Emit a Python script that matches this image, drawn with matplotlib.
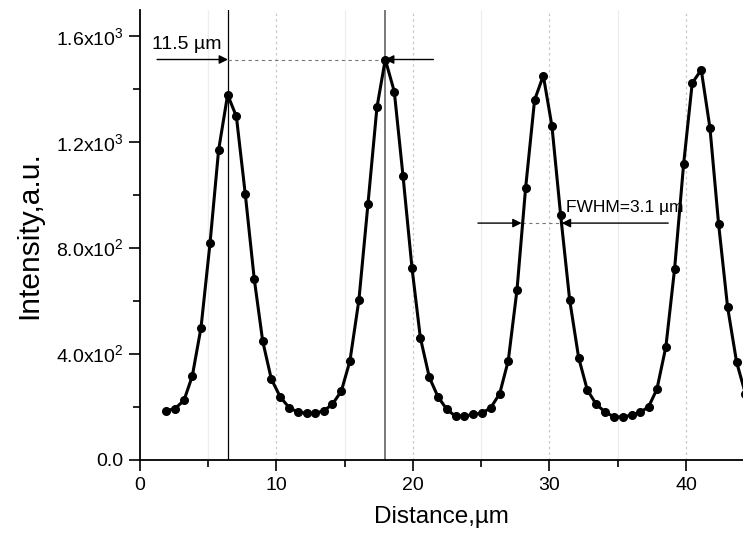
import numpy as np
import matplotlib.pyplot as plt
from matplotlib.ticker import MultipleLocator, FixedLocator

plt.rcParams['font.family'] = ['Liberation Sans', 'DejaVu Sans']
plt.rcParams['mathtext.fontset'] = 'custom'
plt.rcParams['mathtext.rm'] = 'Liberation Sans'

# intensity profile
distance = [1.90, 2.56, 3.22, 3.83, 4.47, 5.13, 5.76, 6.42, 7.06, 7.71,
            8.37, 8.99, 9.62, 10.28, 10.94, 11.58, 12.21, 12.85, 13.48, 14.10,
            14.75, 15.38, 16.04, 16.70, 17.36, 17.97, 18.63, 19.27, 19.93, 20.54,
            21.20, 21.83, 22.47, 23.12, 23.77, 24.42, 25.05, 25.69, 26.35, 26.98,
            27.62, 28.25, 28.91, 29.55, 30.18, 30.82, 31.48, 32.14, 32.77, 33.43,
            34.09, 34.73, 35.36, 36.02, 36.65, 37.26, 37.87, 38.53, 39.17, 39.83,
            40.46, 41.12, 41.76, 42.39, 43.05, 43.71, 44.36]
intensity = [186, 194, 225, 317, 500, 819, 1171, 1380, 1298, 1006,
             684, 449, 306, 238, 197, 181, 177, 177, 186, 211,
             260, 374, 605, 966, 1332, 1513, 1392, 1073, 725, 462,
             312, 239, 192, 165, 166, 172, 177, 197, 250, 375,
             642, 1026, 1360, 1452, 1262, 925, 605, 386, 265, 210,
             181, 163, 163, 169, 180, 201, 267, 428, 723, 1118,
             1424, 1474, 1254, 893, 578, 370, 250]

yticks = [0, 400, 800, 1200, 1600]
ytick_labels = ['0.0', r'4.0x10$^2$', r'8.0x10$^2$', r'1.2x10$^3$', r'1.6x10$^3$']

peak1, peak2 = 6.45, 17.95
peak_level = 1513
half_level = 895
fwhm_left, fwhm_right = 27.96, 30.9

fig = plt.figure(figsize=(7.43, 5.35), dpi=100)
ax = fig.add_axes([140 / 743, 75 / 535, 603 / 743, 450 / 535])

# grid
for x in range(5, 45, 10):
    ax.axvline(x, color='#eeeeee', lw=0.9, zorder=0)
for x in range(10, 45, 10):
    ax.axvline(x, color='#c8c8c8', lw=0.9, ls=(0, (2, 2.5)), zorder=0)

ax.plot(distance, intensity, color='black', lw=2.2, marker='o', ms=5.5, zorder=3)

# peak distance marks
ax.axvline(peak1, color='black', lw=0.9, zorder=2)
ax.axvline(peak2, color='#555555', lw=1.1, zorder=2)
ax.plot([peak1, peak2], [peak_level, peak_level], color='#777777', lw=0.8,
        ls=(0, (3, 3)), zorder=2)
arrow = dict(arrowstyle='-|>', mutation_scale=13, lw=1, color='black',
             shrinkA=0, shrinkB=0)
ax.annotate('', xy=(peak1, peak_level), xytext=(1.25, peak_level), arrowprops=arrow)
ax.annotate('', xy=(peak2, peak_level), xytext=(21.5, peak_level), arrowprops=arrow)
ax.text(0.9, 1536, '11.5 µm', fontsize=14, ha='left', va='bottom')

# FWHM marks
ax.plot([fwhm_left, fwhm_right], [half_level, half_level], color='#777777', lw=0.8,
        ls=(0, (3, 3)), zorder=2)
ax.annotate('', xy=(fwhm_left, half_level), xytext=(24.76, half_level), arrowprops=arrow)
ax.annotate('', xy=(fwhm_right, half_level), xytext=(38.7, half_level), arrowprops=arrow)
ax.text(31.2, 925, 'FWHM=3.1 µm', fontsize=12.5, ha='left', va='bottom')

ax.set_xlim(0, 44.18)
ax.set_ylim(0, 1700)
ax.xaxis.set_major_locator(MultipleLocator(10))
ax.xaxis.set_minor_locator(MultipleLocator(5))
ax.yaxis.set_major_locator(FixedLocator(yticks))
ax.set_yticklabels(ytick_labels)
ax.yaxis.set_minor_locator(MultipleLocator(200))

for side in ['top', 'right']:
    ax.spines[side].set_visible(False)
for side in ['left', 'bottom']:
    ax.spines[side].set_linewidth(1.3)
ax.tick_params(which='major', length=8, width=1.2, labelsize=14, pad=4)
ax.tick_params(which='minor', length=5, width=1.2)

ax.set_xlabel('Distance,µm', fontsize=17.5, labelpad=9)
ax.set_ylabel('Intensity,a.u.', fontsize=21.5, labelpad=9)

fig.savefig('out.png', dpi=100)
